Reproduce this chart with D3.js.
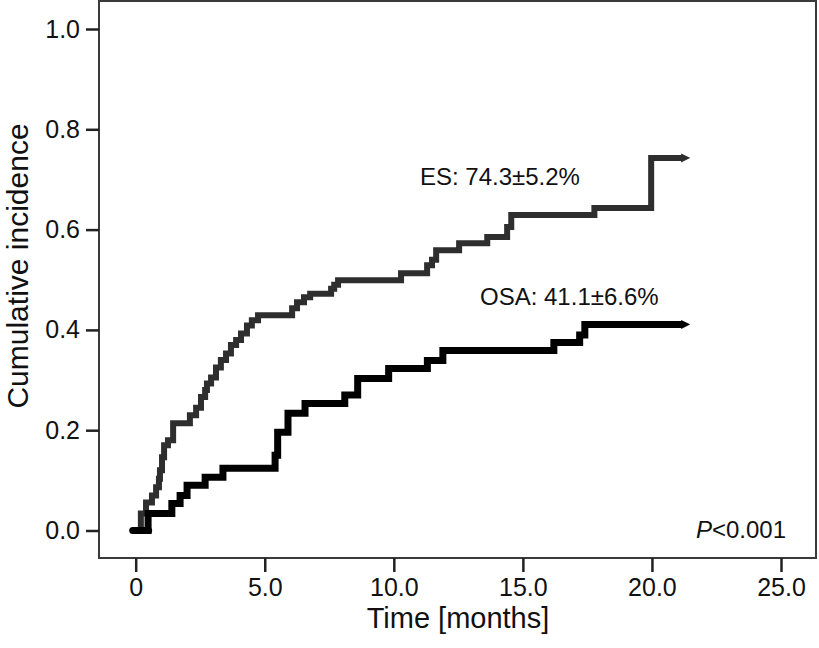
<!DOCTYPE html>
<html>
<head>
<meta charset="utf-8">
<script src="https://cdn.jsdelivr.net/npm/d3@7"></script>
<style>
  html, body { margin: 0; padding: 0; background: #fff; }
  svg { display: block; font-family: "Liberation Sans", Arial, sans-serif; }
</style>
</head>
<body>
<svg id="chart" width="819" height="648"></svg>
<script>
// ---- data ----
const esTimes  = [0, 0.2, 0.4, 0.63, 0.79, 0.9, 0.94, 1.02, 1.1, 1.25, 1.45, 2.1, 2.34, 2.53, 2.69, 2.76, 2.92, 3.11, 3.3, 3.5, 3.69, 3.89, 4.08, 4.31, 4.5, 4.74, 6.06, 6.25, 6.52, 6.76, 7.57, 7.69, 7.84, 10.28, 11.29, 11.48, 11.64, 12.53, 13.62, 14.39, 14.55, 17.77, 19.97, 21.2];
const esValues = [0, 0.034, 0.056, 0.07, 0.086, 0.103, 0.12, 0.146, 0.17, 0.18, 0.214, 0.23, 0.245, 0.266, 0.28, 0.293, 0.305, 0.325, 0.34, 0.353, 0.37, 0.38, 0.393, 0.409, 0.419, 0.429, 0.443, 0.455, 0.465, 0.472, 0.482, 0.49, 0.499, 0.513, 0.529, 0.54, 0.559, 0.573, 0.585, 0.605, 0.629, 0.643, 0.743, 0.743];
const osaTimes  = [0, 0.48, 1.4, 1.72, 1.99, 2.69, 3.38, 5.4, 5.5, 5.9, 6.56, 8.1, 8.6, 9.8, 11.3, 11.9, 16.2, 17.2, 17.4, 21.2];
const osaValues = [0, 0.034, 0.054, 0.07, 0.09, 0.106, 0.124, 0.15, 0.196, 0.234, 0.253, 0.27, 0.303, 0.323, 0.339, 0.359, 0.375, 0.39, 0.411, 0.411];
const xTicks = [0, 5, 10, 15, 20, 25];
const xTickLabels = ["0", "5.0", "10.0", "15.0", "20.0", "25.0"];
const yTicks = [0, 0.2, 0.4, 0.6, 0.8, 1.0];
const yTickLabels = ["0.0", "0.2", "0.4", "0.6", "0.8", "1.0"];
const seriesNames = ["ES", "OSA"];
const seriesLabels = ["ES: 74.3±5.2%", "OSA: 41.1±6.6%"];
const pLabelPrefix = "P";
const pLabelSuffix = "<0.001";
const xTitle = "Time [months]";
const yTitle = "Cumulative incidence";

// ---- layout ----
const svg = d3.select("#chart");
const frame = { left: 99, right: 816, top: 1, bottom: 558 };
const x = d3.scaleLinear().domain([0, 25]).range([135.7, 781]);
const y = d3.scaleLinear().domain([0, 1]).range([530.5, 29]);

// frame
svg.append("rect")
  .attr("x", frame.left).attr("y", frame.top)
  .attr("width", frame.right - frame.left).attr("height", frame.bottom - frame.top)
  .attr("fill", "none").attr("stroke", "#3a3a3a").attr("stroke-width", 2);

// y axis ticks
const yAxis = d3.axisLeft(y).tickValues(yTicks).tickSize(13).tickPadding(6)
  .tickFormat((d, i) => yTickLabels[i]);
const gy = svg.append("g").attr("transform", `translate(${frame.left},0)`).call(yAxis);
gy.select(".domain").remove();
gy.selectAll(".tick line").attr("stroke", "#222").attr("stroke-width", 2.5);
gy.selectAll(".tick text").attr("font-size", 25).attr("fill", "#111")
  .attr("font-family", "Liberation Sans, Arial, sans-serif");

// x axis ticks
const xAxis = d3.axisBottom(x).tickValues(xTicks).tickSize(14).tickPadding(6)
  .tickFormat((d, i) => xTickLabels[i]);
const gx = svg.append("g").attr("transform", `translate(0,${frame.bottom})`).call(xAxis);
gx.select(".domain").remove();
gx.selectAll(".tick line").attr("stroke", "#222").attr("stroke-width", 2.5);
gx.selectAll(".tick text").attr("font-size", 25).attr("fill", "#111")
  .attr("font-family", "Liberation Sans, Arial, sans-serif");

// axis titles
svg.append("text")
  .attr("x", 458).attr("y", 628)
  .attr("text-anchor", "middle").attr("font-size", 29).attr("fill", "#111")
  .text(xTitle);
svg.append("text")
  .attr("transform", "translate(28,266) rotate(-90)")
  .attr("text-anchor", "middle").attr("font-size", 30).attr("fill", "#111")
  .text(yTitle);

// arrow markers
const defs = svg.append("defs");
const colors = { ES: "#2e2e2e", OSA: "#000000" };
seriesNames.forEach(name => {
  defs.append("marker")
    .attr("id", "arrow-" + name)
    .attr("markerUnits", "userSpaceOnUse")
    .attr("viewBox", "0 0 10 10")
    .attr("refX", 2).attr("refY", 5)
    .attr("markerWidth", 9).attr("markerHeight", 11)
    .attr("orient", "auto")
    .append("path").attr("d", "M0,0 L10,5 L0,10 Z").attr("fill", colors[name]);
});

// curves
const line = d3.line()
  .x(d => x(d[0])).y(d => y(d[1]))
  .curve(d3.curveStepAfter);

const esData = esTimes.map((t, i) => [t, esValues[i]]);
const osaData = osaTimes.map((t, i) => [t, osaValues[i]]);

svg.append("path").datum(esData)
  .attr("d", line)
  .attr("fill", "none").attr("stroke", colors.ES).attr("stroke-width", 6)
  .attr("stroke-linejoin", "miter").attr("stroke-linecap", "butt")
  .attr("marker-end", "url(#arrow-ES)");

svg.append("path").datum(osaData)
  .attr("d", line)
  .attr("fill", "none").attr("stroke", colors.OSA).attr("stroke-width", 7)
  .attr("stroke-linejoin", "miter").attr("stroke-linecap", "butt")
  .attr("marker-end", "url(#arrow-OSA)");

// start blob
svg.append("line")
  .attr("x1", x(0) - 3).attr("x2", x(0.5)).attr("y1", y(0)).attr("y2", y(0))
  .attr("stroke", "#000").attr("stroke-width", 7).attr("stroke-linecap", "round");

// annotations
svg.append("text").attr("x", 420).attr("y", 185)
  .attr("font-size", 24).attr("fill", "#111").text(seriesLabels[0]);
svg.append("text").attr("x", 480).attr("y", 305)
  .attr("font-size", 24).attr("fill", "#111").text(seriesLabels[1]);

const pText = svg.append("text").attr("x", 786).attr("y", 538)
  .attr("text-anchor", "end").attr("font-size", 24).attr("fill", "#111");
pText.append("tspan").attr("font-style", "italic").text(pLabelPrefix);
pText.append("tspan").text(pLabelSuffix);
</script>
</body>
</html>
